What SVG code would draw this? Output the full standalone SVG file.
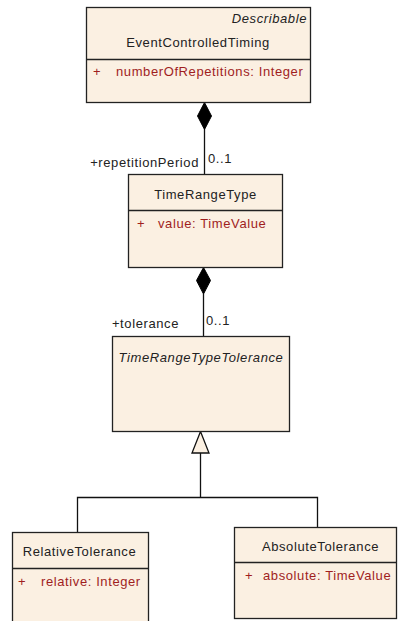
<svg xmlns="http://www.w3.org/2000/svg" width="398" height="621" viewBox="0 0 398 621">
<style>
.box{fill:#FBF0E2;stroke:#222;stroke-width:1.3}
.sep{stroke:#222;stroke-width:1.3}
.ln{stroke:#111;stroke-width:1.3;fill:none}
.t{font-family:"Liberation Sans",Arial,sans-serif;font-size:13px;letter-spacing:0.6px;fill:#222}
.c{text-anchor:middle}
.e{text-anchor:end}
.i{font-style:italic}
.a{fill:#A01E1E}
</style>
<rect width="398" height="621" fill="#fff"/>
<g id="connectors">
<line class="ln" x1="204.5" y1="129" x2="204.5" y2="174.5"/>
<polygon points="204.5,102.5 211.5,116 204.5,129.5 197.5,116" fill="#000" stroke="#000" stroke-width="1"/>
<line class="ln" x1="203.5" y1="294" x2="203.5" y2="336.5"/>
<polygon points="203.5,267.5 210.5,280.5 203.5,294 196.5,280.5" fill="#000" stroke="#000" stroke-width="1"/>
<polyline class="ln" points="200.5,453 200.5,497.5"/>
<polyline class="ln" points="77.5,532.5 77.5,497.5 317.5,497.5 317.5,527.5"/>
<polygon points="200.5,431.5 209,453 192,453" fill="#FBF0E2" stroke="#111" stroke-width="1.3"/>
<text class="t e" x="199" y="167">+repetitionPeriod</text>
<text class="t" x="208" y="163">0..1</text>
<text class="t e" x="179" y="328">+tolerance</text>
<text class="t" x="206" y="325">0..1</text>
</g>
<g id="EventControlledTiming">
<rect class="box" x="86.5" y="7.5" width="224" height="95"/>
<line class="sep" x1="86.5" y1="59.5" x2="310.5" y2="59.5"/>
<text class="t e i" x="307" y="23">Describable</text>
<text class="t c" x="198" y="47">EventControlledTiming</text>
<text class="t a" x="93" y="76">+</text>
<text class="t a" x="116" y="76">numberOfRepetitions: Integer</text>
</g>
<g id="TimeRangeType">
<rect class="box" x="128.5" y="174.5" width="154" height="93"/>
<line class="sep" x1="128.5" y1="210.5" x2="282.5" y2="210.5"/>
<text class="t c" x="205.5" y="199">TimeRangeType</text>
<text class="t a" x="137" y="228">+</text>
<text class="t a" x="158" y="228">value: TimeValue</text>
</g>
<g id="TimeRangeTypeTolerance">
<rect class="box" x="112.5" y="336.5" width="177" height="95"/>
<text class="t c i" x="201" y="362">TimeRangeTypeTolerance</text>
</g>
<g id="RelativeTolerance">
<rect class="box" x="12.5" y="532.5" width="136" height="100"/>
<line class="sep" x1="12.5" y1="568.5" x2="148.5" y2="568.5"/>
<text class="t c" x="79.5" y="556">RelativeTolerance</text>
<text class="t a" x="18" y="586">+</text>
<text class="t a" x="41" y="586">relative: Integer</text>
</g>
<g id="AbsoluteTolerance">
<rect class="box" x="234.5" y="527.5" width="162" height="91"/>
<line class="sep" x1="234.5" y1="562.5" x2="396.5" y2="562.5"/>
<text class="t c" x="320.5" y="551">AbsoluteTolerance</text>
<text class="t a" x="245" y="580">+</text>
<text class="t a" x="263" y="580">absolute: TimeValue</text>
</g>
</svg>
